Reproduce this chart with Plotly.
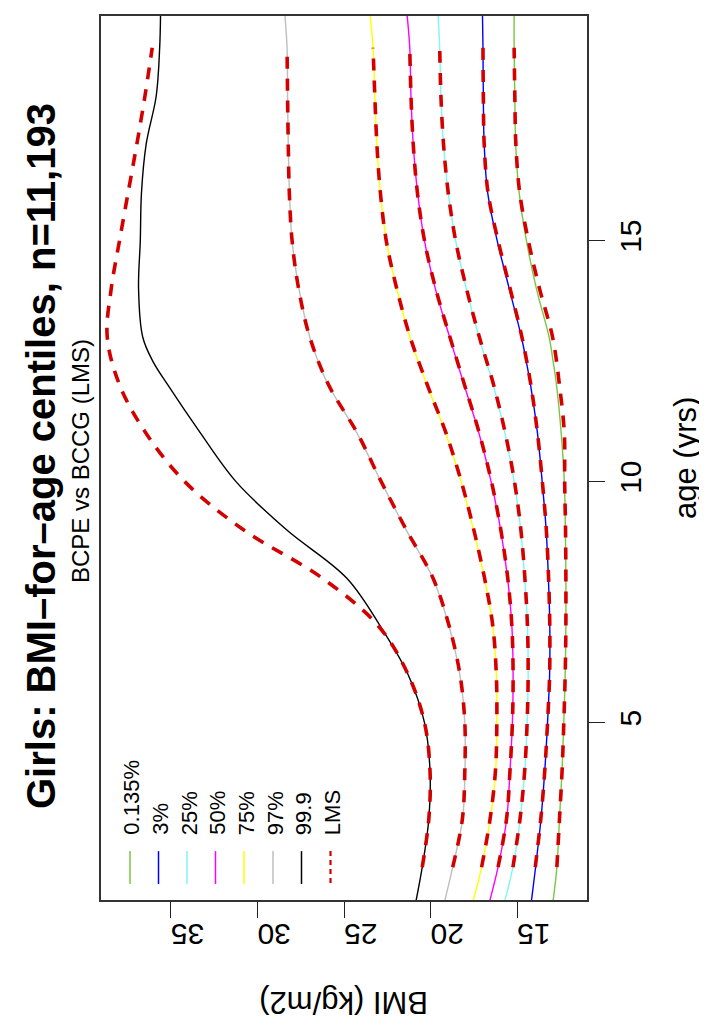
import plotly.graph_objects as go

# ---------------- data ----------------
centile_names = ["0.135%", "3%", "25%", "50%", "75%", "97%", "99.9"]
centile_colors = ["#7cc444", "#0000ff", "#7ff5f5", "#ff00ff", "#ffff00", "#bebebe", "#000000"]

age_bcpe = [1.3, 2, 3, 4, 5, 6, 7, 8, 9, 10, 11, 12, 12.5, 13, 14, 15, 16, 17, 18, 19, 19.7]

bcpe_0135 = [12.92, 12.70, 12.55, 12.40, 12.30, 12.22, 12.18, 12.18, 12.21, 12.27, 12.45, 12.72, 12.92, 13.15, 13.88, 14.46, 14.88, 15.08, 15.13, 15.17, 15.17]
bcpe_3 = [14.17, 13.93, 13.62, 13.40, 13.24, 13.12, 13.11, 13.19, 13.32, 13.55, 13.82, 14.22, 14.47, 14.75, 15.45, 16.15, 16.70, 16.90, 16.95, 16.97, 17.00]
bcpe_25 = [15.71, 15.24, 14.82, 14.55, 14.42, 14.36, 14.40, 14.56, 14.79, 15.17, 15.70, 16.37, 16.79, 17.20, 17.93, 18.55, 18.98, 19.25, 19.40, 19.47, 19.57]
bcpe_50 = [16.58, 16.10, 15.60, 15.41, 15.27, 15.23, 15.30, 15.55, 15.95, 16.50, 17.20, 18.05, 18.48, 18.90, 19.72, 20.35, 20.75, 21.00, 21.13, 21.20, 21.36]
bcpe_75 = [17.54, 17.05, 16.55, 16.24, 16.17, 16.20, 16.40, 16.89, 17.52, 18.24, 19.12, 20.20, 20.72, 21.20, 21.95, 22.55, 22.90, 23.10, 23.22, 23.32, 23.50]
bcpe_97 = [19.18, 18.72, 18.15, 18.01, 18.02, 18.31, 18.93, 19.87, 21.41, 22.86, 24.24, 25.90, 26.50, 26.98, 27.60, 28.00, 28.15, 28.22, 28.26, 28.29, 28.42]
bcpe_999 = [20.84, 20.48, 20.10, 20.03, 20.35, 21.30, 22.90, 24.85, 28.32, 31.24, 33.28, 35.17, 36.05, 36.63, 36.87, 36.77, 36.70, 36.43, 35.85, 35.65, 35.60]

age_lms = [2, 3, 4, 5, 6, 7, 8, 9, 10, 11, 12, 13, 14, 15, 16, 17, 18, 19]

lms_0135 = [12.70, 12.55, 12.40, 12.30, 12.22, 12.18, 12.18, 12.20, 12.25, 12.27, 12.55, 12.95, 13.70, 14.35, 14.85, 15.07, 15.13, 15.17]
lms_3 = [13.95, 13.63, 13.40, 13.24, 13.12, 13.11, 13.18, 13.31, 13.54, 13.82, 14.20, 14.72, 15.40, 16.10, 16.68, 16.90, 16.95, 16.97]
lms_25 = [15.24, 14.83, 14.56, 14.42, 14.36, 14.40, 14.55, 14.78, 15.15, 15.68, 16.35, 17.18, 17.92, 18.55, 18.98, 19.25, 19.40, 19.47]
lms_50 = [16.10, 15.61, 15.41, 15.27, 15.23, 15.30, 15.54, 15.94, 16.48, 17.18, 18.03, 18.88, 19.70, 20.35, 20.76, 21.00, 21.13, 21.20]
lms_75 = [17.05, 16.56, 16.25, 16.17, 16.20, 16.40, 16.88, 17.50, 18.22, 19.10, 20.18, 21.18, 21.95, 22.56, 22.90, 23.10, 23.22, 23.32]
lms_97 = [18.72, 18.16, 18.02, 18.02, 18.30, 18.92, 19.86, 21.40, 22.85, 24.22, 25.88, 26.98, 27.62, 28.00, 28.16, 28.22, 28.26, 28.29]
lms_999 = [20.48, 20.10, 20.03, 20.35, 21.30, 23.00, 26.26, 30.81, 34.20, 36.43, 37.96, 38.68, 38.45, 37.97, 37.47, 36.97, 36.50, 36.08]

bmi_ticks = [15, 20, 25, 30, 35]
age_ticks = [5, 10, 15]

title_text = "<b>Girls: BMI\u2013for\u2013age centiles, n=11,193</b>"
subtitle_text = "BCPE vs BCCG (LMS)"
x_title = "BMI (kg/m2)"
y_title = "age (yrs)"
legend_labels = ["0.135%", "3%", "25%", "50%", "75%", "97%", "99.9", "LMS"]

# ---------------- layout geometry ----------------
W, H = 707, 1020
L, R, T, B = 93, 579, 6, 892
LMS_COLOR = "#d40000"
FONT = "Liberation Sans, Arial, Helvetica, sans-serif"


def px_x(px):
    return (px - L) / (R - L)


def px_y(py):
    return (B - py) / (B - T)


fig = go.Figure()

bcpe_series = [bcpe_0135, bcpe_3, bcpe_25, bcpe_50, bcpe_75, bcpe_97, bcpe_999]
lms_series = [lms_0135, lms_3, lms_25, lms_50, lms_75, lms_97, lms_999]

for name, col, vals in zip(centile_names, centile_colors, bcpe_series):
    fig.add_trace(go.Scatter(
        x=vals, y=age_bcpe, mode="lines", name=name,
        line=dict(color=col, width=1.4, shape="spline", smoothing=1.0),
        showlegend=False, hoverinfo="skip"))

for name, vals in zip(centile_names, lms_series):
    fig.add_trace(go.Scatter(
        x=vals, y=age_lms, mode="lines", name="LMS " + name,
        line=dict(color=LMS_COLOR, width=3.6, dash="12px,10px", shape="spline", smoothing=1.0),
        showlegend=False, hoverinfo="skip"))

axis_common = dict(
    showgrid=False, zeroline=False, showline=True, mirror=True,
    linecolor="#333333", linewidth=1.6,
    ticks="outside", ticklen=16, tickwidth=1.4, tickcolor="#222222",
    tickfont=dict(family=FONT, size=30, color="#000000"),
)

fig.update_layout(
    width=W, height=H, autosize=False,
    margin=dict(l=L, r=W - R, t=T, b=H - B, pad=0),
    paper_bgcolor="white", plot_bgcolor="white",
    showlegend=False,
    xaxis=dict(range=[39.04, 10.96], tickvals=bmi_ticks, ticktext=[str(v) for v in bmi_ticks],
               tickangle=180, side="bottom", **axis_common),
    yaxis=dict(range=[1.32, 19.66], tickvals=age_ticks, ticktext=[str(v) for v in age_ticks],
               tickangle=-90, side="right", **axis_common),
)

annotations = [
    dict(text=title_text, x=px_x(33), y=px_y(447), textangle=-90,
         font=dict(family=FONT, size=40, color="#000000")),
    dict(text=subtitle_text, x=px_x(73), y=px_y(452), textangle=-90,
         font=dict(family=FONT, size=24, color="#000000")),
    dict(text=x_title, x=px_x(336), y=px_y(994), textangle=180,
         font=dict(family=FONT, size=31, color="#000000")),
    dict(text=y_title, x=px_x(677), y=px_y(449), textangle=-90,
         font=dict(family=FONT, size=31, color="#000000")),
]

# manual (rotated) legend
leg_x = [122, 150.5, 179, 207.5, 236, 265, 293.5, 322.5]
leg_colors = centile_colors + [LMS_COLOR]
shapes = []
for i, (lx, lab, col) in enumerate(zip(leg_x, legend_labels, leg_colors)):
    is_lms = lab == "LMS"
    shapes.append(dict(type="line", xref="paper", yref="paper",
                       x0=px_x(lx), x1=px_x(lx), y0=px_y(843), y1=px_y(876),
                       line=dict(color=col, width=2.2 if is_lms else 1.5,
                                 dash="5px,4px" if is_lms else "solid")))
    annotations.append(dict(text=lab, x=px_x(lx + 2), y=px_y(829), textangle=-90,
                            xanchor="center", yanchor="bottom",
                            font=dict(family=FONT, size=22, color="#000000")))

for a in annotations:
    a.setdefault("xref", "paper")
    a.setdefault("yref", "paper")
    a.setdefault("showarrow", False)
    a.setdefault("xanchor", "center")
    a.setdefault("yanchor", "middle")

fig.update_layout(annotations=annotations, shapes=shapes)

fig.write_html("out.html")
